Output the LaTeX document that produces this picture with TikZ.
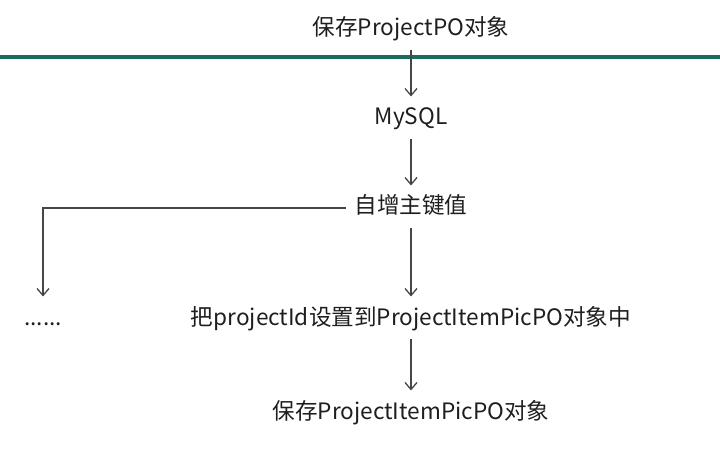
\documentclass[tikz,border=0pt]{standalone}
\usepackage{fontspec}
\setmainfont{Noto Sans CJK SC}
\usepackage{tikz}
\usetikzlibrary{positioning}
\usetikzlibrary{arrows.meta}
\usetikzlibrary{chains}
\definecolor{barteal}{RGB}{28,108,92}
\definecolor{arrowgray}{RGB}{70,70,70}
\definecolor{textdark}{RGB}{30,30,30}
\begin{document}
\begin{tikzpicture}[
    start chain=going below,    % flow goes top-to-bottom
    node distance=89pt and 368pt,
    ]
% -------------------------------------------------
\tikzset{
  base/.style={on grid, align=center, font=\fontsize{22.6pt}{26pt}\selectfont,
    text=textdark, text height=17pt, text depth=5pt},
  proc/.style={base, on chain},
  line/.style={draw, arrowgray, line width=1.3pt, shorten <=5pt, shorten >=8pt,
    -{Straight Barb[length=7pt,width=12pt]}}
}
\useasboundingbox (0,0) rectangle (720pt,-454pt);
% -------------------------------------------------
% Placing the nodes

\node [proc] at (411pt,-30pt) (save) {保存ProjectPO对象};
\node [proc] (sql) {MySQL};
\node [proc] (key) {自增主键值};
\node [proc, yshift=-22pt] (set) {把projectId设置到ProjectItemPicPO对象中};
\node [proc, yshift=-5pt] (item) {保存ProjectItemPicPO对象};
\node [base, left=of set] (dots) {......};

% the green separator
\draw [barteal, line width=4pt] (0,-57pt) -- (720pt,-57pt);

\path [line] (save) -- (sql);
\path [line] (sql) -- (key);
\path [line] (key) -- (set);
\path [line] (set) -- (item);
\path [line] (key.west) -| (dots.north);

\end{tikzpicture}
\end{document}
